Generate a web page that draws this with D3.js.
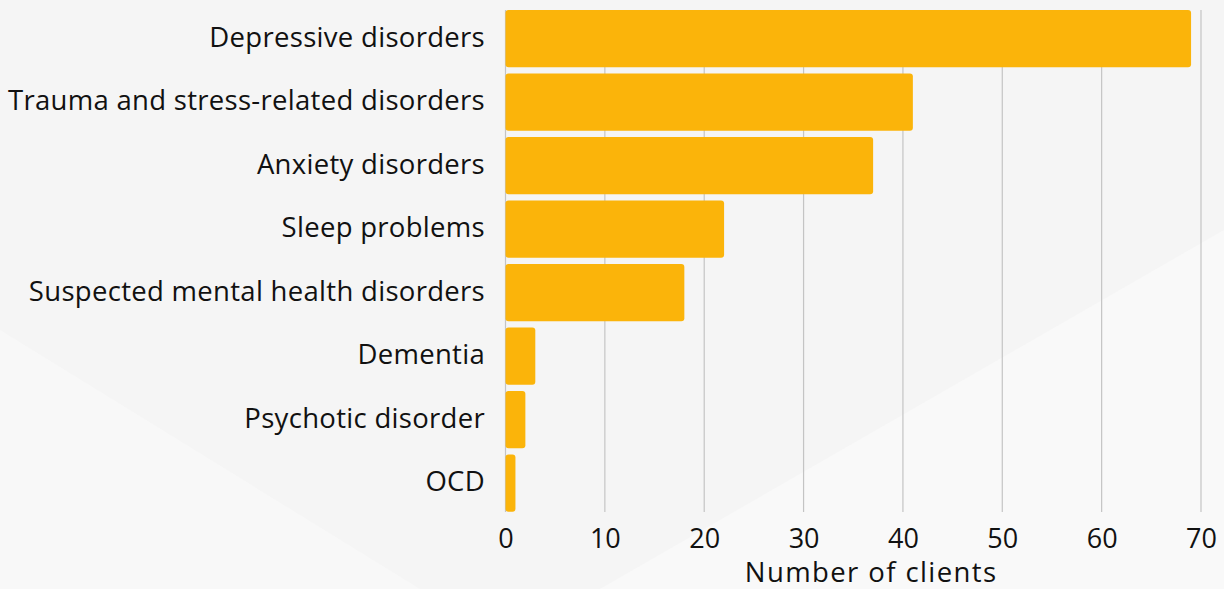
<!DOCTYPE html>
<html>
<head>
<meta charset="utf-8">
<script src="https://cdn.jsdelivr.net/npm/d3@7"></script>
<style>
  body { margin: 0; background: #f6f6f6; }
  svg { display: block; }
</style>
</head>
<body>
<script>
const categories = [
  "Depressive disorders",
  "Trauma and stress-related disorders",
  "Anxiety disorders",
  "Sleep problems",
  "Suspected mental health disorders",
  "Dementia",
  "Psychotic disorder",
  "OCD"
];
const clients = [69, 41, 37, 22, 18, 3, 2, 1];
const xTicks = [0, 10, 20, 30, 40, 50, 60, 70];

const width = 1224, height = 589;

const svg = d3.select("body")
  .append("svg")
  .attr("width", width)
  .attr("height", height);

// Background shapes
svg.append("rect")
  .attr("width", width)
  .attr("height", height)
  .attr("fill", "#f5f5f5");

svg.append("polygon")
  .attr("points", "1224,230 1224,589 600,589")
  .attr("fill", "#f9f9f9");

svg.append("polygon")
  .attr("points", "0,330 420,589 0,589")
  .attr("fill", "#f8f8f8");

const x = d3.scaleLinear()
  .domain([0, 70])
  .range([505.5, 1201]);

const y = d3.scaleBand()
  .domain(categories)
  .range([6.8, 514.8])
  .paddingInner(0.1)
  .paddingOuter(0.05);

// Grid
svg.append("g")
  .selectAll("line")
  .data(xTicks)
  .join("line")
  .attr("x1", d => x(d))
  .attr("x2", d => x(d))
  .attr("y1", 10)
  .attr("y2", 512)
  .attr("stroke", "#c4c4c4")
  .attr("stroke-width", 1.2);

// Bars
svg.append("g")
  .selectAll("rect")
  .data(clients)
  .join("rect")
  .attr("x", x(0))
  .attr("y", (d, i) => y(categories[i]))
  .attr("width", d => x(d) - x(0))
  .attr("height", y.bandwidth())
  .attr("rx", 3)
  .attr("fill", "#fbb40a");

// Category labels
svg.append("g")
  .selectAll("text")
  .data(categories)
  .join("text")
  .attr("x", 485)
  .attr("y", d => y(d) + y.bandwidth() / 2)
  .attr("dy", "0.3em")
  .attr("text-anchor", "end")
  .attr("font-family", "Open Sans, sans-serif")
  .attr("font-size", 27.5)
  .attr("letter-spacing", 0.3)
  .attr("fill", "#111")
  .text(d => d);

// Axis
const xAxis = svg.append("g")
  .attr("transform", "translate(0,512)")
  .call(d3.axisBottom(x).tickValues(xTicks).tickSize(0).tickPadding(17));
xAxis.select(".domain").remove();
xAxis.selectAll("text")
  .attr("font-family", "Open Sans, sans-serif")
  .attr("font-size", 27)
  .attr("fill", "#111");

svg.append("text")
  .attr("x", x(36.8))
  .attr("y", 582)
  .attr("text-anchor", "middle")
  .attr("font-family", "Open Sans, sans-serif")
  .attr("font-size", 27.5)
  .attr("letter-spacing", 1.4)
  .attr("fill", "#111")
  .text("Number of clients");
</script>
</body>
</html>
